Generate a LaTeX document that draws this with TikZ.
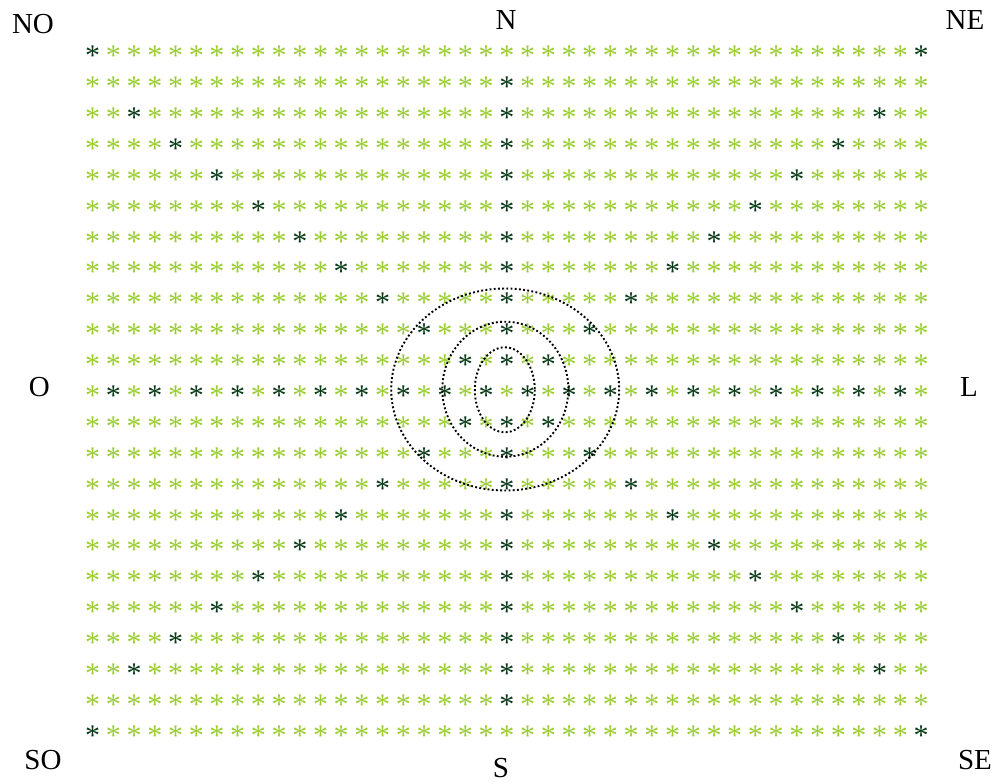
\documentclass[tikz,border=0pt]{standalone}
\usepackage{fontspec}
\setmainfont{Liberation Serif}
\definecolor{lightg}{RGB}{154,205,50}
\definecolor{darkg}{RGB}{8,58,22}
\begin{document}
\begin{tikzpicture}[x=1pt,y=-1pt,
  star/.style={inner sep=0pt, anchor=base, yshift=-14.1pt, font=\fontsize{30}{35}\selectfont},
  lab/.style={inner sep=0pt, anchor=center, font=\fontsize{29}{34}\selectfont, text=black},
  ring/.style={draw=black, line width=1.9pt, dash pattern=on 1.9pt off 2.3pt}]
\useasboundingbox (0,0) rectangle (996,784);
\foreach \r in {0,...,22}{
  \foreach \c in {0,...,40}{
    \pgfmathtruncatemacro{\rr}{min(\r,22-\r)}
    \pgfmathtruncatemacro{\dk}{((\rr==0)&&((\c==0)||(\c==40))) || ((\c==20)&&(\rr>=1)&&(\r!=11)) || ((\r==11)&&(mod(\c,2)==1)) || ((\rr>=2)&&(\rr<=10)&&((\c==2*\rr-2)||(\c==42-2*\rr)))}
    \ifnum\dk=1 \def\col{darkg}\else\def\col{lightg}\fi
    \node[star, text=\col] (s-\r-\c) at ({92.7+20.71*\c},{51.7+30.88*\r}) {*};
  }
}
\draw[ring] (505.2,389.5) ellipse [x radius=114, y radius=101];
\draw[ring] (505.3,389.2) ellipse [x radius=63, y radius=67.5];
\draw[ring] (504.8,389.8) ellipse [x radius=30, y radius=42.5];
\node[lab] (no) at (33,24.5) {NO};
\node[lab] (n) at (506,19.7) {N};
\node[lab] (ne) at (965,20) {NE};
\node[lab] (o) at (39.3,386.7) {O};
\node[lab] (l) at (969,386.7) {L};
\node[lab] (so) at (43,760) {SO};
\node[lab] (s) at (501,768.5) {S};
\node[lab] (se) at (975,759.7) {SE};
\end{tikzpicture}
\end{document}
